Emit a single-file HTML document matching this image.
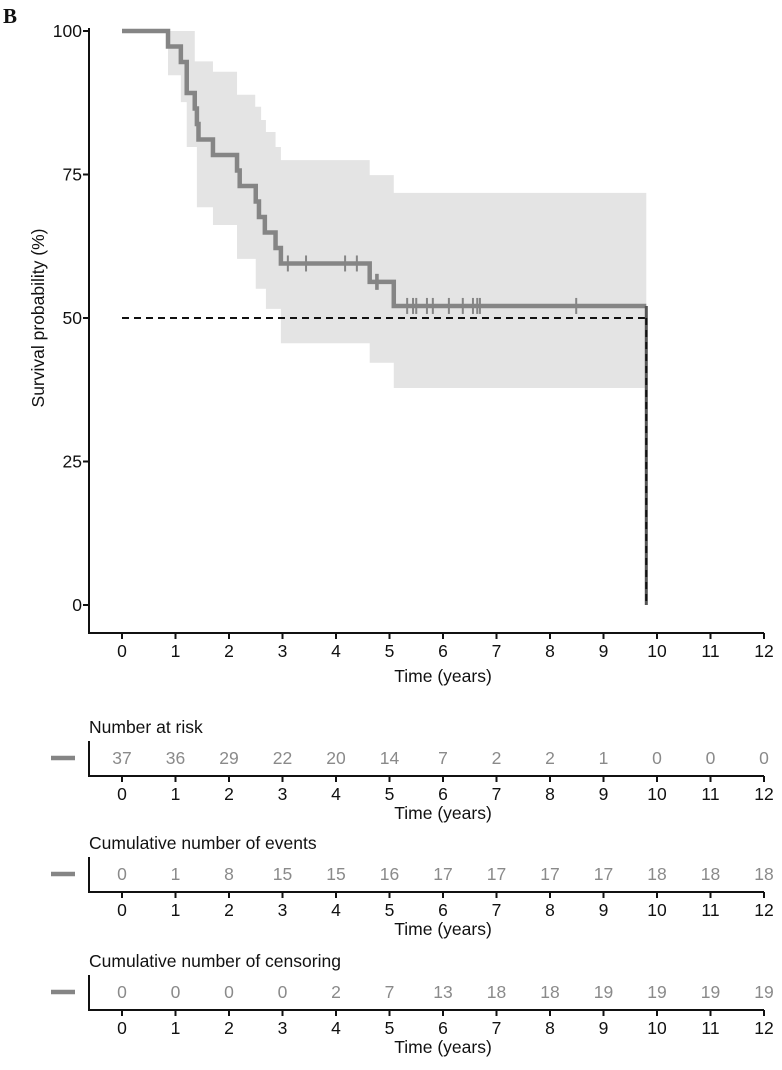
<!DOCTYPE html>
<html><head><meta charset="utf-8"><style>
html,body{margin:0;padding:0;background:#fff;}
svg{display:block;font-family:"Liberation Sans",Arial,sans-serif;}
</style></head><body>
<svg id="c" width="782" height="1070" viewBox="0 0 782 1070"></svg>
<script>
const timeTicks=[0,1,2,3,4,5,6,7,8,9,10,11,12];
const yTicks=[0,25,50,75,100];
const stepTimes=[0,0.86,1.1,1.21,1.36,1.4,1.43,1.7,2.15,2.2,2.5,2.56,2.67,2.87,2.97,4.63,5.08,9.8];
const stepSurv=[100,97.3,94.6,89.2,86.5,83.8,81.1,78.4,75.7,73.0,70.3,67.6,64.9,62.2,59.5,56.3,52.1,52.1];
const censorTimes=[3.1,3.44,4.17,4.39,4.75,4.78,5.33,5.44,5.5,5.7,5.81,6.11,6.37,6.56,6.64,6.69,8.49];
const censorSurv=[59.5,59.5,59.5,59.5,56.3,56.3,52.1,52.1,52.1,52.1,52.1,52.1,52.1,52.1,52.1,52.1,52.1];
const upperTimes=[0.86,1.36,1.7,2.15,2.49,2.6,2.69,2.87,2.97,4.63,5.08];
const upperVals=[100,94.7,92.9,88.9,86.8,84.5,82.4,79.8,77.5,74.9,71.8];
const lowerTimes=[0.86,1.1,1.21,1.4,1.7,2.15,2.5,2.69,2.97,4.63,5.08];
const lowerVals=[92.3,87.6,79.8,69.3,66.2,60.3,55.1,51.6,45.6,42.2,37.8];
const endTime=9.8;
const medianTime=9.8;
const atRisk=[37,36,29,22,20,14,7,2,2,1,0,0,0];
const cumEvents=[0,1,8,15,15,16,17,17,17,17,18,18,18];
const cumCensor=[0,0,0,0,2,7,13,18,18,19,19,19,19];
const tableTitles=["Number at risk","Cumulative number of events","Cumulative number of censoring"];

const svg=document.getElementById('c');
const NS="http://www.w3.org/2000/svg";
const FS=17.5;
const X=t=>122+t*53.5;
const Y=p=>605-p*5.74;
function el(tag,attrs,parent){const e=document.createElementNS(NS,tag);for(const k in attrs)e.setAttribute(k,attrs[k]);(parent||svg).appendChild(e);return e;}
function txt(s,x,y,anchor,extra,parent){const e=el('text',Object.assign({x:x,y:y,'text-anchor':anchor,'font-size':FS,fill:'#111'},extra||{}),parent);e.textContent=s;return e;}

let b=txt('B',3,23,'start',{'font-family':'"Liberation Serif",serif','font-weight':'bold','font-size':21});



let pts=[];
let tU=upperTimes.concat([endTime]);
for(let i=0;i<upperTimes.length;i++){pts.push([X(tU[i]),Y(upperVals[i])]);pts.push([X(tU[i+1]),Y(upperVals[i])]);}
let tL=lowerTimes.concat([endTime]);
let lp=[];
for(let i=0;i<lowerTimes.length;i++){lp.push([X(tL[i]),Y(lowerVals[i])]);lp.push([X(tL[i+1]),Y(lowerVals[i])]);}
pts=pts.concat(lp.reverse());
let band=el('polygon',{points:pts.map(p=>p.join(',')).join(' '),fill:'#e4e4e4'});



let med=el('path',{d:`M${X(0)},${Y(50)}H${X(medianTime)}`,stroke:'#111','stroke-width':2,'stroke-dasharray':'7,5',fill:'none'});



let d=`M${X(stepTimes[0])},${Y(stepSurv[0])}`;
for(let i=1;i<stepTimes.length;i++){d+=`H${X(stepTimes[i])}V${Y(stepSurv[i])}`;}
let curve=el('path',{d:d,stroke:'#858585','stroke-width':4.5,fill:'none'});


let drop=el('line',{x1:X(endTime),y1:Y(stepSurv[stepSurv.length-1]),x2:X(endTime),y2:Y(0),stroke:'#555','stroke-width':3});


let med2=el('line',{x1:X(medianTime),y1:Y(50),x2:X(medianTime),y2:Y(0),stroke:'#111','stroke-width':2,'stroke-dasharray':'7,5'});


for(let i=0;i<censorTimes.length;i++){
  let c=el('line',{x1:X(censorTimes[i]),x2:X(censorTimes[i]),y1:Y(censorSurv[i])-8,y2:Y(censorSurv[i])+8,stroke:'#858585','stroke-width':2});
  
  
}

let ax=el('path',{d:'M89,28V633H764',stroke:'#111','stroke-width':2,fill:'none'});


yTicks.forEach(v=>{
  el('line',{x1:83,x2:89,y1:Y(v),y2:Y(v),stroke:'#111','stroke-width':2});
  let t=txt(String(v),82,Y(v)+6,'end');
  
  
});
function xAxis(yLine,pre,titleOff){
  timeTicks.forEach(v=>{
    el('line',{x1:X(v),x2:X(v),y1:yLine,y2:yLine+6,stroke:'#111','stroke-width':2});
    let t=txt(String(v),X(v),yLine+24,'middle');
    
    
  });
  let tt=txt('Time (years)',443,yLine+titleOff,'middle');
  
  
}
xAxis(633,'main',49);
let yt=txt('Survival probability (%)',0,0,'middle');
yt.setAttribute('transform','translate(44,318) rotate(-90)');



const tables=[atRisk,cumEvents,cumCensor];
const tableAxisY=[776,892,1010];
tables.forEach((vals,k)=>{
  const base=tableAxisY[k];
  let ti=txt(tableTitles[k],89,base-43,'start');
  
  
  let a=el('path',{d:`M89,${base-35}V${base}H764`,stroke:'#111','stroke-width':2,fill:'none'});
  
  
  let lg=el('line',{x1:51,x2:75,y1:base-18,y2:base-18,stroke:'#858585','stroke-width':4.5});
  
  
  vals.forEach((v,i)=>{
    let n=txt(String(v),X(timeTicks[i]),base-12,'middle',{fill:'#8a8a8a'});
    
    
  });
  xAxis(base,'table'+(k+1),43);
});
</script>
</body></html>
